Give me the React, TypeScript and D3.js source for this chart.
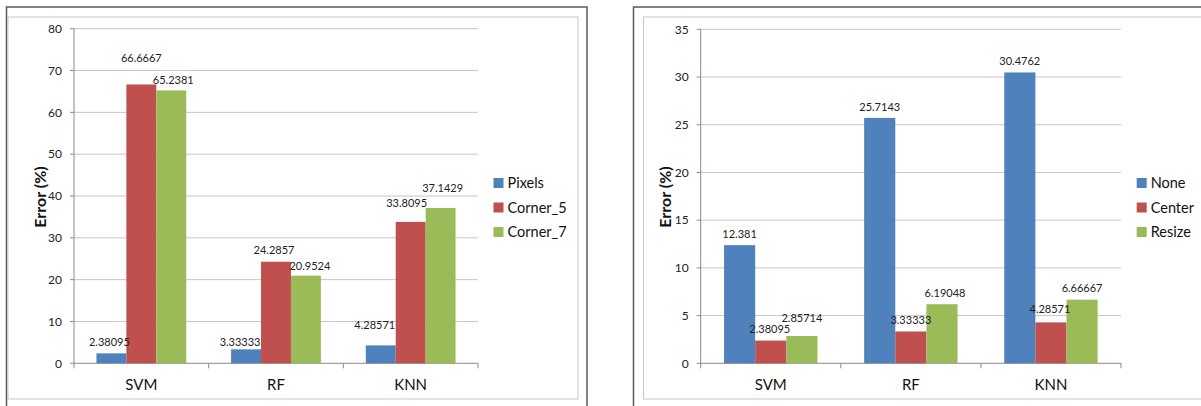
import React from "react";
import * as d3 from "d3";

const categories = ["SVM", "RF", "KNN"];

const leftSeriesNames = ["Pixels", "Corner_5", "Corner_7"];
const leftPixels = [2.38095, 3.33333, 4.28571];
const leftCorner5 = [66.6667, 24.2857, 33.8095];
const leftCorner7 = [65.2381, 20.9524, 37.1429];
const leftTicks = [0, 10, 20, 30, 40, 50, 60, 70, 80];

const rightSeriesNames = ["None", "Center", "Resize"];
const rightNone = [12.381, 25.7143, 30.4762];
const rightCenter = [2.38095, 3.33333, 4.28571];
const rightResize = [2.85714, 6.19048, 6.66667];
const rightTicks = [0, 5, 10, 15, 20, 25, 30, 35];

const COLORS = ["#4F81BD", "#C0504D", "#9BBB59"];
const FONT = "Lato, 'Open Sans', sans-serif";

// label placement tweaks (layout, in px) mimicking the reference's label positions
const leftNudge = [
  [[-2, 0], [-6, 4], [-6, -9]],
  [[0, -15], [-2, -1], [-4, -8]],
  [[2, 1], [4, 1], [2, -9]],
];
const rightNudge = [
  [[0, 0], [0, 0], [0, 0]],
  [[-1, 0], [0, 0], [-1, -2]],
  [[0, -7], [3, 0], [0, -1]],
];

type ChartProps = {
  frame: { x0: number; y0: number; x1: number; y1: number };
  inner: { x0: number; y0: number; x1: number; y1: number };
  plot: { left: number; right: number; top: number; bottom: number };
  ticks: number[];
  names: string[];
  series: number[][];
  nudge: number[][][];
  titleX: number;
  legendX: number;
};

function Chart(p: ChartProps) {
  const { plot, ticks, names, series, nudge } = p;
  const y = d3
    .scaleLinear()
    .domain([0, ticks[ticks.length - 1]])
    .range([plot.bottom, plot.top]);
  const x = d3
    .scaleBand<string>()
    .domain(categories)
    .range([plot.left, plot.right])
    .paddingInner(0)
    .paddingOuter(0);
  const bw = x.bandwidth();
  const xs = d3
    .scaleBand<string>()
    .domain(names)
    .range([bw / 6, (bw * 5) / 6])
    .padding(0);
  const boundaries = [plot.left, ...categories.map((c) => (x(c) as number) + bw)];
  const legendY0 = 183;
  const legendStep = 24.5;
  return (
    <g>
      <rect
        x={p.frame.x0}
        y={p.frame.y0}
        width={p.frame.x1 - p.frame.x0}
        height={p.frame.y1 - p.frame.y0}
        fill="#fff"
        stroke="#5a5a5a"
        strokeWidth={1.5}
      />
      <rect
        x={p.inner.x0}
        y={p.inner.y0}
        width={p.inner.x1 - p.inner.x0}
        height={p.inner.y1 - p.inner.y0}
        fill="#fff"
        stroke="#c8c8c8"
        strokeWidth={1}
      />
      {ticks.map((t) => (
        <g key={"t" + t}>
          {t > 0 && (
            <line
              x1={plot.left}
              x2={plot.right}
              y1={y(t)}
              y2={y(t)}
              stroke="#c6c6c6"
              strokeWidth={1}
            />
          )}
          <line x1={plot.left - 4} x2={plot.left} y1={y(t)} y2={y(t)} stroke="#8a8a8a" />
          <text
            x={plot.left - 12}
            y={y(t)}
            dy="0.35em"
            textAnchor="end"
            fontSize={12}
            fontFamily={FONT}
            fill="#222"
          >
            {t}
          </text>
        </g>
      ))}
      <line x1={plot.left} x2={plot.left} y1={plot.top} y2={plot.bottom} stroke="#8a8a8a" />
      <line x1={plot.left} x2={plot.right} y1={plot.bottom} y2={plot.bottom} stroke="#8a8a8a" />
      {boundaries.map((b, i) => (
        <line key={"b" + i} x1={b} x2={b} y1={plot.bottom} y2={plot.bottom + 5} stroke="#8a8a8a" />
      ))}
      {categories.map((c) => (
        <text
          key={"c" + c}
          x={(x(c) as number) + bw / 2}
          y={385}
          dy="0.35em"
          textAnchor="middle"
          fontSize={15}
          fontFamily={FONT}
          fill="#111"
        >
          {c}
        </text>
      ))}
      {series.map((vals, si) =>
        vals.map((v, ci) => {
          const bx = (x(categories[ci]) as number) + (xs(names[si]) as number);
          return (
            <rect
              key={`r${si}-${ci}`}
              x={bx}
              y={y(v)}
              width={xs.bandwidth()}
              height={plot.bottom - y(v)}
              fill={COLORS[si]}
            />
          );
        })
      )}
      {series.map((vals, si) =>
        vals.map((v, ci) => {
          const bx = (x(categories[ci]) as number) + (xs(names[si]) as number);
          const [dx, dy] = nudge[si][ci];
          return (
            <text
              key={`l${si}-${ci}`}
              x={bx + xs.bandwidth() / 2 + dx}
              y={y(v) - 11 + dy}
              dy="0.35em"
              textAnchor="middle"
              fontSize={11}
              fontFamily={FONT}
              fill="#222"
            >
              {String(v)}
            </text>
          );
        })
      )}
      <text
        transform={`translate(${p.titleX},197) rotate(-90)`}
        textAnchor="middle"
        dy="0.35em"
        fontSize={16}
        fontWeight="bold"
        fontFamily={FONT}
        fill="#111"
      >
        Error (%)
      </text>
      {names.map((n, i) => (
        <g key={"lg" + n}>
          <rect x={p.legendX} y={legendY0 + i * legendStep - 5} width={10} height={10} fill={COLORS[i]} />
          <text
            x={p.legendX + 14}
            y={legendY0 + i * legendStep}
            dy="0.35em"
            fontSize={14.5}
            fontFamily={FONT}
            fill="#111"
          >
            {n}
          </text>
        </g>
      ))}
    </g>
  );
}

export default function App() {
  return (
    <svg
      width={1201}
      height={406}
      style={{ position: "absolute", left: 0, top: 0, background: "#fff" }}
    >
      <rect x={0} y={0} width={1201} height={406} fill="#fff" />
      <Chart
        frame={{ x0: 6.5, y0: 7, x1: 587, y1: 420 }}
        inner={{ x0: 8, y0: 17, x1: 578, y1: 399 }}
        plot={{ left: 74, right: 478, top: 28.7, bottom: 363.3 }}
        ticks={leftTicks}
        names={leftSeriesNames}
        series={[leftPixels, leftCorner5, leftCorner7]}
        nudge={leftNudge}
        titleX={40}
        legendX={493.5}
      />
      <Chart
        frame={{ x0: 633.5, y0: 7, x1: 1220, y1: 420 }}
        inner={{ x0: 643.5, y0: 17, x1: 1215, y1: 399 }}
        plot={{ left: 700.7, right: 1121, top: 29.3, bottom: 363.3 }}
        ticks={rightTicks}
        names={rightSeriesNames}
        series={[rightNone, rightCenter, rightResize]}
        nudge={rightNudge}
        titleX={665}
        legendX={1136.7}
      />
    </svg>
  );
}
